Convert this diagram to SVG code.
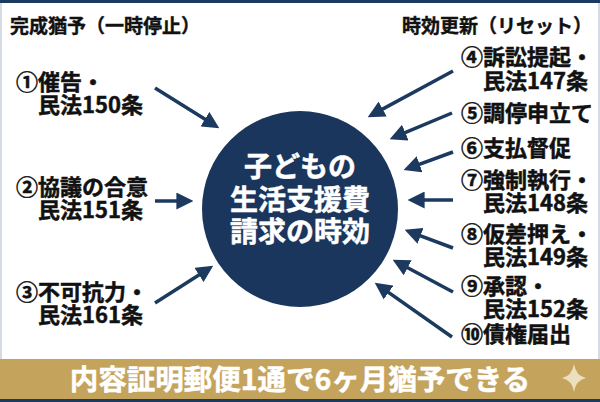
<svg xmlns="http://www.w3.org/2000/svg" width="600" height="402" viewBox="0 0 600 402">
<style>
.lbl{font-family:"Noto Sans CJK JP","Noto Sans",sans-serif;font-weight:700;font-size:22px;fill:#111;stroke:#111;stroke-width:0.5}
.hdr{font-family:"Noto Sans CJK JP","Noto Sans",sans-serif;font-weight:700;font-size:19px;fill:#111;stroke:#111;stroke-width:0.4}
.ctr{font-family:"Noto Sans CJK JP","Noto Sans",sans-serif;font-weight:700;font-size:28px;fill:#fff;stroke:#fff;stroke-width:0.5}
.ban{font-family:"Noto Sans CJK JP","Noto Sans",sans-serif;font-weight:700;font-size:28.5px;fill:#fff;stroke:#fff;stroke-width:0.5}
.arr{stroke:#1c3a5f;stroke-width:3.5;fill:none;marker-end:url(#ah)}
</style>
<defs>
<marker id="ah" viewBox="0 0 10 10" refX="6.25" refY="5" markerWidth="17" markerHeight="17" markerUnits="userSpaceOnUse" orient="auto">
<path d="M0,0 L10,5 L0,10 z" fill="#1c3a5f"/>
</marker>
</defs>
<rect x="0" y="0" width="600" height="402" fill="#fff"/>
<rect x="0" y="0" width="600" height="3" fill="#1c3a5f"/>
<rect x="0" y="3" width="2" height="356" fill="#d5dbe3"/>
<rect x="598" y="3" width="2" height="356" fill="#d5dbe3"/>

<g id="header-left"><text class="hdr" x="10" y="33">完成猶予（一時停止）</text></g>
<g id="header-right"><text class="hdr" x="592" y="33" text-anchor="end">時効更新（リセット）</text></g>

<g id="center">
<circle cx="300" cy="209" r="98" fill="#1b365d"/>
<text class="ctr" text-anchor="middle"><tspan x="300" y="177">子どもの</tspan><tspan x="300" y="210">生活支援費</tspan><tspan x="300" y="242">請求の時効</tspan></text>
</g>

<g id="n1"><text class="lbl"><tspan x="16" y="90">①催告・</tspan><tspan x="38" y="113">民法150条</tspan></text></g>
<g id="n2"><text class="lbl"><tspan x="16" y="195">②協議の合意</tspan><tspan x="38" y="218">民法151条</tspan></text></g>
<g id="n3"><text class="lbl"><tspan x="16" y="300">③不可抗力・</tspan><tspan x="38" y="323">民法161条</tspan></text></g>
<g id="n4"><text class="lbl"><tspan x="461" y="65">④訴訟提起・</tspan><tspan x="483" y="89">民法147条</tspan></text></g>
<g id="n5"><text class="lbl" x="461" y="121">⑤調停申立て</text></g>
<g id="n6"><text class="lbl" x="461" y="156">⑥支払督促</text></g>
<g id="n7"><text class="lbl"><tspan x="461" y="188">⑦強制執行・</tspan><tspan x="483" y="211">民法148条</tspan></text></g>
<g id="n8"><text class="lbl"><tspan x="461" y="242">⑧仮差押え・</tspan><tspan x="483" y="265">民法149条</tspan></text></g>
<g id="n9"><text class="lbl"><tspan x="461" y="294">⑨承認・</tspan><tspan x="483" y="317">民法152条</tspan></text></g>
<g id="n10"><text class="lbl" x="461" y="342">⑩債権届出</text></g>

<g id="connectors">
<line class="arr" x1="155" y1="88" x2="213.9" y2="124.8"/>
<line class="arr" x1="155" y1="201" x2="187" y2="201"/>
<line class="arr" x1="155" y1="303" x2="207.9" y2="269.2"/>
<line class="arr" x1="453" y1="71" x2="373.3" y2="114.1"/>
<line class="arr" x1="452" y1="113" x2="395.5" y2="136.7"/>
<line class="arr" x1="453" y1="152" x2="409.6" y2="167.9"/>
<line class="arr" x1="453" y1="200" x2="414" y2="200"/>
<line class="arr" x1="453" y1="248" x2="410.6" y2="232.1"/>
<line class="arr" x1="453" y1="292" x2="398.3" y2="262.8"/>
<line class="arr" x1="452" y1="337" x2="379.9" y2="286.4"/>
</g>

<g id="banner">
<rect x="0" y="359" width="600" height="40" fill="#c4a35c"/>
<rect x="0" y="399" width="600" height="3" fill="#1c3a5f"/>
<text class="ban" x="300" y="390" text-anchor="middle">内容証明郵便1通で6ヶ月猶予できる</text>
<path d="M574,364 Q576,376 586,378 Q576,380 574,392 Q572,380 562,378 Q572,376 574,364 z" fill="#ecdfbd"/>
</g>
</svg>
